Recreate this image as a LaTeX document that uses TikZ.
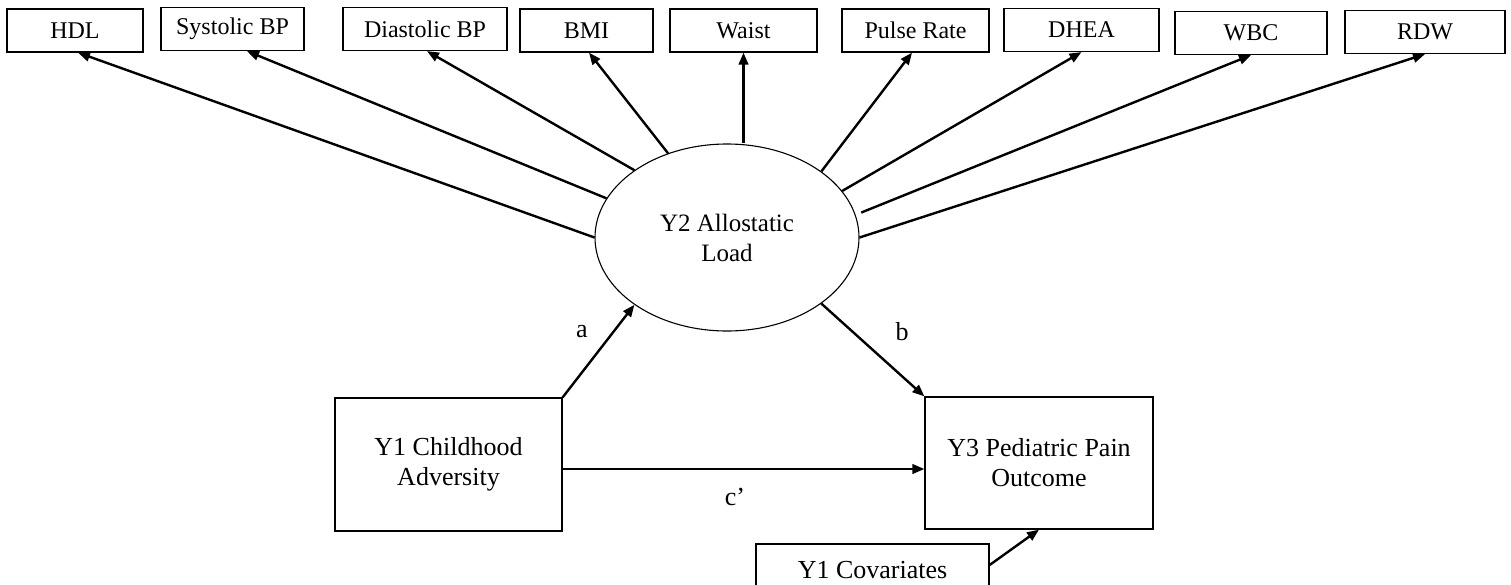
\documentclass[tikz,border=0pt]{standalone}
\usepackage{fontspec}
\setmainfont{Liberation Serif}
\usetikzlibrary{arrows.meta,shapes.geometric}
\begin{document}
\begin{tikzpicture}[x=1pt,y=-1pt,
  topbox/.style={draw, line width=1.2pt, inner sep=0pt, minimum height=43pt, font=\fontsize{24}{28}\selectfont},
  mainbox/.style={draw, line width=1.2pt, inner sep=0pt, align=center, font=\fontsize{26}{30}\selectfont},
  arr/.style={line width=2.4pt, -{Triangle[length=12pt,width=9.5pt]}},
  lbl/.style={font=\fontsize{26}{30}\selectfont, inner sep=0pt}
]
\useasboundingbox (0,0) rectangle (1511,584);
\clip (0,0) rectangle (1511,584);
% top indicator boxes
\node[topbox, minimum width=136pt] (hdl) at (75,30.5) {HDL};
\node[topbox, minimum width=143pt] (sys) at (232.5,29) {Systolic BP};
\node[topbox, minimum width=164pt] (dia) at (425,29) {Diastolic BP};
\node[topbox, minimum width=133pt] (bmi) at (586.5,30.5) {BMI};
\node[topbox, minimum width=147pt] (waist) at (743.5,30.5) {Waist};
\node[topbox, minimum width=147pt] (pulse) at (915.5,30.5) {Pulse Rate};
\node[topbox, minimum width=155pt] (dhea) at (1081.5,30) {DHEA};
\node[topbox, minimum width=152pt] (wbc) at (1251,33) {WBC};
\node[topbox, minimum width=160pt] (rdw) at (1425,32) {RDW};
% latent variable
\node[draw, ellipse, line width=1.1pt, inner sep=0pt, minimum width=264pt, minimum height=187pt, align=center, font=\fontsize{25}{30}\selectfont] (al) at (727,237.5) {Y2 Allostatic\\Load};
% main boxes
\node[mainbox, minimum width=227pt, minimum height=133pt] (y1) at (448.5,464.5) {Y1 Childhood\\Adversity};
\node[mainbox, minimum width=228pt, minimum height=132pt] (y3) at (1039,463) {Y3 Pediatric Pain\\Outcome};
\node[mainbox, minimum width=233pt, minimum height=56pt] (cov) at (872.5,572) {\raisebox{4pt}{Y1 Covariates}};
% loadings
\draw[arr] (al.180) -- ([xshift=3pt]hdl.south);
\draw[arr] (al.162) -- ([xshift=14.5pt]sys.south);
\draw[arr] (al.144) -- ([xshift=2pt]dia.south);
\draw[arr] (al.125) -- ([xshift=2.5pt]bmi.south);
\draw[arr] (waist.south |- al.north) -- (waist.south);
\draw[arr] (al.35) -- ([xshift=-3.5pt]pulse.south);
\draw[arr] (al.22) -- (dhea.south);
\draw[arr, shorten <=6pt] (al.10) -- (wbc.south);
\draw[arr] (al.0) -- (rdw.south);
% structural paths
\draw[arr] (y1.north east) -- (al.216);
\draw[arr] (al.-35) -- (y3.north west);
\draw[arr] ([yshift=-4.5pt]y1.east) -- ([yshift=-4.5pt]y1.east -| y3.west);
\draw[arr] ([yshift=7pt]cov.east) -- (y3.south);
% labels
\node[lbl] (la) at (582,332) {a};
\node[lbl] (lb) at (902,332) {b};
\node[lbl] (lc) at (735,497) {c’};
\end{tikzpicture}
\end{document}
